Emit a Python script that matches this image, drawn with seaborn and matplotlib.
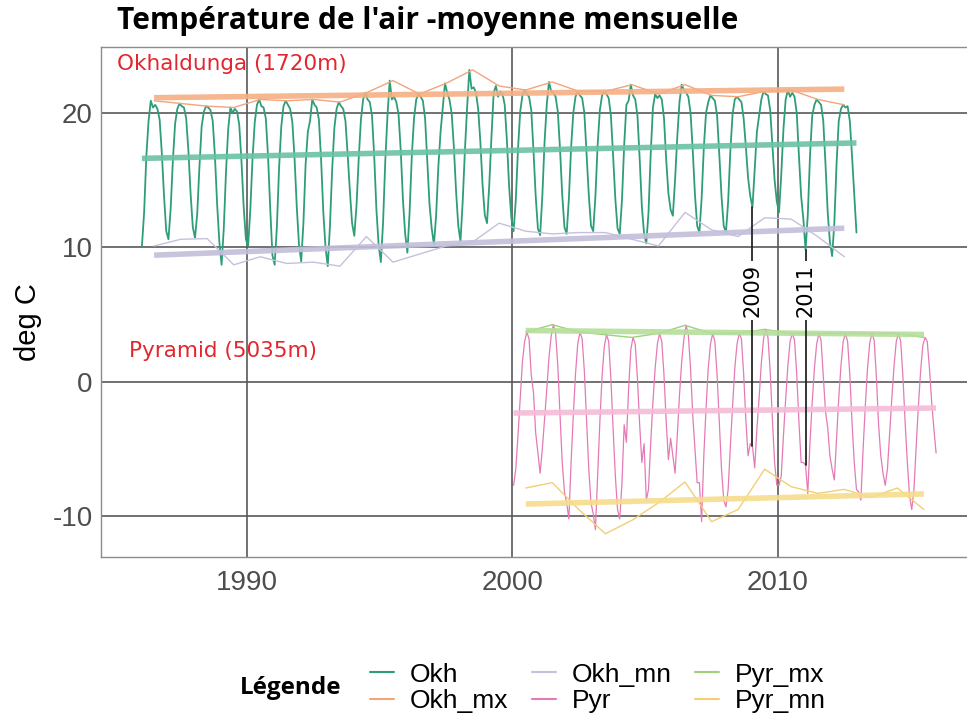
import numpy as np
import pandas as pd
import matplotlib
matplotlib.use("Agg")
import matplotlib.pyplot as plt
from matplotlib.lines import Line2D
import seaborn as sns

# Okhaldunga (1720m): monthly mean air temperature, one row per year (Jan..Dec)
okh_years = list(range(1986, 2013))
okh_monthly = [
    [10.1, 12.6, 16.8, 19.4, 20.9, 20.4, 20.6, 20.3, 19.5, 17.0, 13.8, 11.2],
    [10.6, 12.9, 16.5, 19.2, 20.3, 20.7, 20.5, 20.4, 19.6, 17.2, 14.0, 11.5],
    [10.7, 12.5, 16.0, 19.0, 20.1, 20.5, 20.4, 20.2, 19.4, 16.8, 13.2, 10.4],
    [8.7, 11.4, 15.6, 18.8, 20.4, 20.0, 20.3, 20.1, 19.1, 16.4, 13.0, 10.6],
    [10.1, 12.8, 16.6, 19.3, 20.6, 21.0, 20.5, 20.4, 19.6, 16.8, 12.9, 9.4],
    [8.7, 11.5, 15.9, 19.0, 20.5, 20.9, 20.6, 20.3, 19.3, 16.6, 13.0, 10.2],
    [8.95, 11.8, 16.2, 18.6, 19.4, 21.0, 20.6, 20.4, 19.5, 16.5, 12.6, 10.0],
    [8.6, 11.6, 15.8, 18.9, 20.3, 20.8, 20.5, 20.3, 19.4, 16.9, 14.2, 11.8],
    [10.85, 13.1, 16.6, 19.5, 21.0, 21.5, 21.0, 20.8, 19.8, 16.8, 12.8, 10.2],
    [8.9, 11.8, 16.4, 19.8, 22.4, 21.0, 21.2, 20.8, 19.9, 17.2, 13.5, 11.0],
    [9.6, 12.6, 16.8, 19.6, 21.0, 21.4, 21.2, 20.9, 19.6, 16.4, 13.2, 11.4],
    [10.2, 12.4, 16.0, 18.6, 20.4, 22.2, 21.5, 21.0, 20.0, 17.5, 14.2, 11.6],
    [10.45, 13.4, 17.2, 20.4, 23.2, 21.8, 21.9, 21.5, 20.3, 17.8, 14.6, 12.4],
    [11.8, 14.6, 18.2, 21.5, 22.0, 21.2, 21.6, 21.4, 20.6, 17.9, 14.5, 12.2],
    [11.2, 13.5, 17.3, 20.1, 21.3, 21.7, 21.4, 21.2, 20.2, 17.2, 13.8, 11.4],
    [10.9, 13.8, 17.8, 20.6, 22.3, 21.6, 21.5, 21.2, 20.1, 17.3, 13.9, 11.5],
    [11.0, 13.6, 17.4, 20.0, 21.2, 21.6, 21.3, 21.1, 20.0, 17.0, 13.9, 11.6],
    [11.2, 13.8, 17.6, 20.2, 21.3, 21.6, 21.4, 21.1, 19.8, 16.8, 13.6, 11.4],
    [11.0, 13.5, 17.6, 20.6, 20.9, 22.1, 21.3, 21.0, 19.8, 16.6, 13.0, 11.0],
    [10.3, 12.6, 17.0, 20.4, 21.4, 21.1, 21.3, 21.0, 19.6, 16.5, 14.0, 12.8],
    [12.35, 15.0, 18.2, 20.8, 22.1, 21.7, 21.5, 21.2, 20.0, 17.2, 13.9, 11.6],
    [11.1, 13.6, 17.4, 20.0, 20.8, 21.3, 21.1, 20.9, 19.8, 16.9, 13.8, 11.6],
    [11.1, 13.4, 17.2, 19.9, 21.0, 21.2, 21.0, 20.8, 19.6, 17.5, 15.2, 13.8],
    [13.0, 15.8, 18.6, 19.8, 21.0, 21.6, 21.4, 21.3, 20.2, 17.6, 15.0, 13.4],
    [12.6, 15.4, 18.8, 21.0, 21.7, 21.2, 21.5, 21.2, 20.0, 16.8, 13.8, 12.1],
    [9.8, 12.4, 16.8, 19.8, 20.6, 21.0, 20.8, 20.6, 19.4, 16.2, 12.6, 10.4],
    [9.35, 11.8, 16.2, 19.4, 20.3, 20.6, 20.4, 20.5, 19.4, 16.8, 13.9, 11.1],
]
okh_mx = [20.9, 20.7, 20.5, 20.4, 21.0, 20.9, 21.0, 20.8, 21.5, 22.4, 21.4, 22.2, 23.2, 22.0,
          21.7, 22.3, 21.6, 21.6, 22.1, 21.4, 22.1, 21.3, 21.2, 21.6, 21.7, 21.0, 20.6]
okh_mn = [10.1, 10.6, 10.65, 8.7, 9.3, 8.8, 8.9, 8.6, 10.8, 8.9, 9.5, 10.1, 10.4, 11.8,
          11.2, 11.0, 11.1, 11.1, 10.6, 10.1, 12.6, 11.3, 10.8, 12.2, 12.1, 10.8, 9.3]

# Pyramid (5035m)
pyr_years = list(range(2000, 2016))
pyr_monthly = [
    [-7.7, -6.5, -4.0, -1.2, 1.5, 3.0, 3.7, 3.2, 0.5, -0.8, -3.8, -5.3],
    [-6.8, -5.0, -2.8, -0.6, 1.8, 3.4, 4.25, 3.6, 1.2, -2.5, -6.0, -8.2],
    [-9.0, -10.2, -6.0, -2.5, 0.6, 2.8, 3.7, 3.2, 0.8, -2.8, -6.5, -9.0],
    [-9.8, -11.0, -7.0, -3.0, 0.4, 2.6, 3.5, 3.0, 0.2, -3.5, -7.0, -9.5],
    [-10.2, -7.5, -3.2, -4.5, -0.5, 2.4, 3.3, 2.8, 0.2, -3.2, -6.0, -4.6],
    [-8.8, -8.0, -4.5, -1.5, 1.0, 2.8, 3.6, 3.0, 0.5, -3.0, -5.8, -4.2],
    [-5.5, -6.8, -4.0, -1.0, 1.5, 3.2, 4.2, 3.5, 1.0, -2.5, -5.0, -7.5],
    [-7.5, -10.4, -5.5, -2.0, 1.0, 2.8, 3.6, 3.0, 0.5, -3.0, -6.5, -8.8],
    [-9.3, -8.0, -4.8, -1.8, 1.0, 2.8, 3.6, 3.2, 0.6, -2.8, -5.5, -4.6],
    [-4.8, -6.4, -3.5, -1.2, 1.4, 3.2, 3.9, 3.3, 0.8, -2.8, -6.0, -7.7],
    [-7.7, -7.0, -4.0, -1.3, 1.2, 3.0, 3.6, 3.1, 0.6, -3.0, -6.0, -6.0],
    [-6.2, -8.3, -4.5, -1.5, 1.0, 2.8, 3.6, 3.1, 0.5, -2.2, -3.4, -5.5],
    [-6.5, -7.3, -4.2, -1.2, 1.2, 3.0, 3.6, 3.0, 0.5, -3.0, -6.0, -8.0],
    [-8.2, -8.8, -5.0, -1.8, 1.0, 2.9, 3.6, 3.1, 0.4, -3.2, -5.5, -6.8],
    [-7.7, -6.5, -3.8, -1.2, 1.2, 3.0, 3.6, 3.0, 0.4, -3.0, -6.0, -8.5],
    [-9.5, -8.0, -4.8, -1.8, 0.8, 2.7, 3.3, 3.0, 1.0, -1.5, -3.5, -5.3],
]
pyr_mx = [3.7, 4.25, 3.7, 3.5, 3.3, 3.6, 4.2, 3.6, 3.6, 3.9, 3.6, 3.6, 3.6, 3.6, 3.6, 3.3]
pyr_mn = [-7.9, -7.5, -9.5, -11.3, -10.3, -9.0, -7.45, -10.4, -9.5, -6.5, -7.8, -8.3,
          -8.0, -8.6, -7.9, -9.5]

event_years = [2009, 2011]

series_names = ["Okh", "Okh_mx", "Okh_mn", "Pyr", "Pyr_mx", "Pyr_mn"]
thin_colors = {"Okh": "#2e9e78", "Okh_mx": "#f2a47c", "Okh_mn": "#c5c1dd",
               "Pyr": "#e57ab5", "Pyr_mx": "#9fd07a", "Pyr_mn": "#f3cf74"}
trend_colors = {"Okh": "#6cc2a3", "Okh_mx": "#f5ae84", "Okh_mn": "#c2bedb",
                "Pyr": "#f5bcd8", "Pyr_mx": "#b5de9a", "Pyr_mn": "#f6dc8c"}


def monthly_frame(years, rows):
    dates = [y + (m + 0.5) / 12 for y in years for m in range(12)]
    temps = [v for row in rows for v in row]
    return pd.DataFrame({"date": dates, "temp": temps})


def annual_frame(years, vals):
    return pd.DataFrame({"date": [y + 0.5 for y in years], "temp": vals})


frames = {
    "Okh": monthly_frame(okh_years, okh_monthly),
    "Okh_mx": annual_frame(okh_years, okh_mx),
    "Okh_mn": annual_frame(okh_years, okh_mn),
    "Pyr": monthly_frame(pyr_years, pyr_monthly),
    "Pyr_mx": annual_frame(pyr_years, pyr_mx),
    "Pyr_mn": annual_frame(pyr_years, pyr_mn),
}
thin_lw = {"Okh": 1.3, "Okh_mx": 1.0, "Okh_mn": 1.0, "Pyr": 0.9, "Pyr_mx": 1.0, "Pyr_mn": 1.0}

sns.set_style("white")
plt.rcParams["font.family"] = ["Liberation Sans", "DejaVu Sans"]
plt.rcParams["axes.unicode_minus"] = False

fig = plt.figure(figsize=(9.67, 7.17), dpi=100)
# panel runs past the right edge of the picture, as in the original
ax = fig.add_axes([101 / 967, 160 / 717, 880 / 967, 510 / 717])

for name in series_names:
    sns.lineplot(data=frames[name], x="date", y="temp", ax=ax, color=thin_colors[name],
                 lw=thin_lw[name], estimator=None, zorder=3)
for name in series_names:
    sns.regplot(data=frames[name], x="date", y="temp", ax=ax, scatter=False, ci=None,
                line_kws=dict(color=trend_colors[name], lw=4, alpha=0.9, zorder=4,
                              solid_capstyle="butt"))

# labelled segments linking the two stations in January of the event years
okh = frames["Okh"].set_index("date")["temp"]
pyr = frames["Pyr"].set_index("date")["temp"]
for yr in event_years:
    d = yr + 0.5 / 12
    top = okh.loc[d]
    bottom = pyr.loc[d]
    ax.plot([d, d], [top, bottom], color="#262626", lw=1.3, zorder=5)
    ax.text(d, 6.8, str(yr), rotation=90, ha="center", va="center", fontsize=15,
            family="DejaVu Sans", color="black", zorder=6,
            bbox=dict(facecolor="white", edgecolor="none", pad=2))

ax.text(1985.1, 23.6, "Okhaldunga (1720m)", color="#e3262e", fontsize=15.5,
        family="DejaVu Sans", va="center", ha="left", zorder=6)
ax.text(1985.55, 2.3, "Pyramid (5035m)", color="#e3262e", fontsize=15.5,
        family="DejaVu Sans", va="center", ha="left", zorder=6)

ax.set_xlim(1984.5, 2017.65)
ax.set_ylim(-13.03, 24.9)
ax.set_xticks([1990, 2000, 2010])
ax.set_yticks([-10, 0, 10, 20])
ax.grid(True, color="#595959", lw=1.2, zorder=0)
ax.set_axisbelow(True)
for s in ax.spines.values():
    s.set_color("#8c8c8c")
    s.set_linewidth(1.0)
ax.spines["right"].set_visible(False)
ax.tick_params(axis="both", labelsize=20, colors="#4d4d4d", length=3, width=1)
ax.tick_params(axis="x", pad=6)
ax.tick_params(axis="y", pad=3)
ax.set_xlabel("")
ax.set_ylabel("")

fig.text(28 / 967, 1 - 322 / 717, "deg C", rotation=90, ha="center", va="center",
         fontsize=21, color="black")
fig.text(117 / 967, 1 - 21 / 717, "Température de l'air -moyenne mensuelle",
         fontsize=21.5, fontweight="bold", family="Open Sans", color="black",
         ha="left", va="center")

handles = [Line2D([0], [0], color=thin_colors[n], lw=1.5) for n in series_names]
leg = fig.legend(handles, series_names, ncol=3, loc="center",
                 bbox_to_anchor=(598 / 967, 1 - 688 / 717), frameon=False, fontsize=19,
                 handlelength=0.9, handletextpad=0.6, columnspacing=0.9, labelspacing=0.1)
for t in leg.get_texts():
    t.set_color("black")
fig.text(240 / 967, 1 - 688 / 717, "Légende", fontsize=17.5, fontweight="bold",
         family="Open Sans", color="black", ha="left", va="center")

fig.savefig("out.png", dpi=100)
